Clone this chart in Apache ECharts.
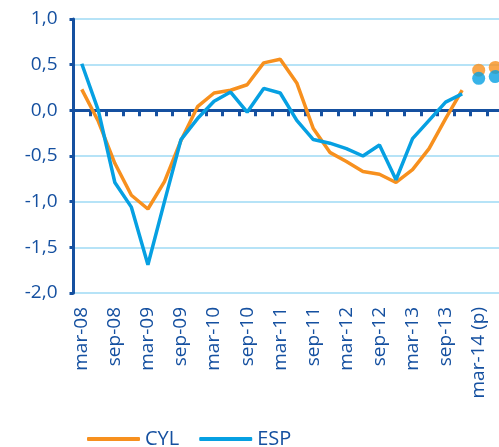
<!DOCTYPE html>
<html>
<head>
<meta charset="utf-8">
<script src="https://cdn.jsdelivr.net/npm/echarts@6/dist/echarts.min.js"></script>
<style>
  html, body { margin: 0; padding: 0; background: #fff; }
  #chart { width: 499px; height: 447px; }
</style>
</head>
<body>
<div id="chart"></div>
<script>
// trimestres mar-08 ... jun-14 (p)
let categories = [
  'mar-08', 'jun-08', 'sep-08', 'dic-08',
  'mar-09', 'jun-09', 'sep-09', 'dic-09',
  'mar-10', 'jun-10', 'sep-10', 'dic-10',
  'mar-11', 'jun-11', 'sep-11', 'dic-11',
  'mar-12', 'jun-12', 'sep-12', 'dic-12',
  'mar-13', 'jun-13', 'sep-13', 'dic-13',
  'mar-14 (p)', 'jun-14 (p)'
];

let cylValues = [
  0.23, -0.12, -0.58, -0.93, -1.08, -0.78, -0.33, 0.04,
  0.19, 0.22, 0.28, 0.52, 0.56, 0.30, -0.20, -0.46,
  -0.56, -0.67, -0.70, -0.79, -0.65, -0.42, -0.09, 0.22
];
let espValues = [
  0.51, 0.00, -0.79, -1.06, -1.69, -1.00, -0.32, -0.09,
  0.10, 0.20, -0.02, 0.24, 0.19, -0.11, -0.32, -0.36,
  -0.42, -0.50, -0.38, -0.76, -0.31, -0.11, 0.09, 0.18
];
// previsiones (puntos)
let cylForecast = [0.44, 0.47];
let espForecast = [0.35, 0.37];

let navy = '#1550a0';
let orange = '#f7901e';
let blue = '#06a0e2';
let fontFamily = 'Open Sans';

function pad(values, start) {
  let out = [];
  for (let i = 0; i < categories.length; i++) {
    let j = i - start;
    out.push(j >= 0 && j < values.length ? values[j] : '-');
  }
  return out;
}

let chartDom = document.getElementById('chart');
let myChart = echarts.init(chartDom);

let option = {
  animation: false,
  grid: {
    left: 73.5,
    right: -4.5,
    top: 19,
    bottom: 154,
    outerBoundsMode: 'none'
  },
  legend: {
    data: ['CYL', 'ESP'],
    left: 82,
    top: 424,
    icon: 'roundRect',
    itemWidth: 53,
    itemHeight: 4,
    itemGap: 20,
    textStyle: { color: navy, fontSize: 20, fontFamily: fontFamily }
  },
  xAxis: [
    {
      type: 'category',
      data: categories,
      boundaryGap: true,
      position: 'bottom',
      axisLine: { show: false, onZero: false },
      axisTick: { show: false },
      axisLabel: {
        interval: 1,
        rotate: 90,
        margin: 14,
        color: navy,
        fontSize: 19,
        fontFamily: fontFamily
      }
    },
    {
      type: 'category',
      data: categories,
      boundaryGap: true,
      position: 'bottom',
      axisLine: { show: true, onZero: true, lineStyle: { color: navy, width: 3 } },
      axisTick: { show: true, interval: 0, length: 6, lineStyle: { color: navy, width: 3 } },
      axisLabel: { show: false }
    }
  ],
  yAxis: {
    type: 'value',
    min: -2,
    max: 1,
    interval: 0.5,
    axisLine: { show: true, lineStyle: { color: navy, width: 3 } },
    axisTick: { show: true, length: 4, lineStyle: { color: navy, width: 3 } },
    splitLine: { show: true, lineStyle: { color: '#b6e3f7', width: 2 } },
    axisLabel: {
      margin: 16,
      color: navy,
      fontSize: 19,
      fontFamily: fontFamily,
      formatter: function (v) { return v.toFixed(1).replace('.', ','); }
    }
  },
  series: [
    {
      name: 'CYL',
      type: 'line',
      data: pad(cylValues, 0),
      showSymbol: false,
      color: orange,
      lineStyle: { width: 3.5, color: orange }
    },
    {
      name: 'ESP',
      type: 'line',
      data: pad(espValues, 0),
      showSymbol: false,
      color: blue,
      lineStyle: { width: 3.5, color: blue }
    },
    {
      name: 'CYL (p)',
      type: 'scatter',
      data: pad(cylForecast, 24),
      symbolSize: 13,
      itemStyle: { color: orange }
    },
    {
      name: 'ESP (p)',
      type: 'scatter',
      data: pad(espForecast, 24),
      symbolSize: 13,
      itemStyle: { color: blue }
    }
  ]
};

myChart.setOption(option);
</script>
</body>
</html>
